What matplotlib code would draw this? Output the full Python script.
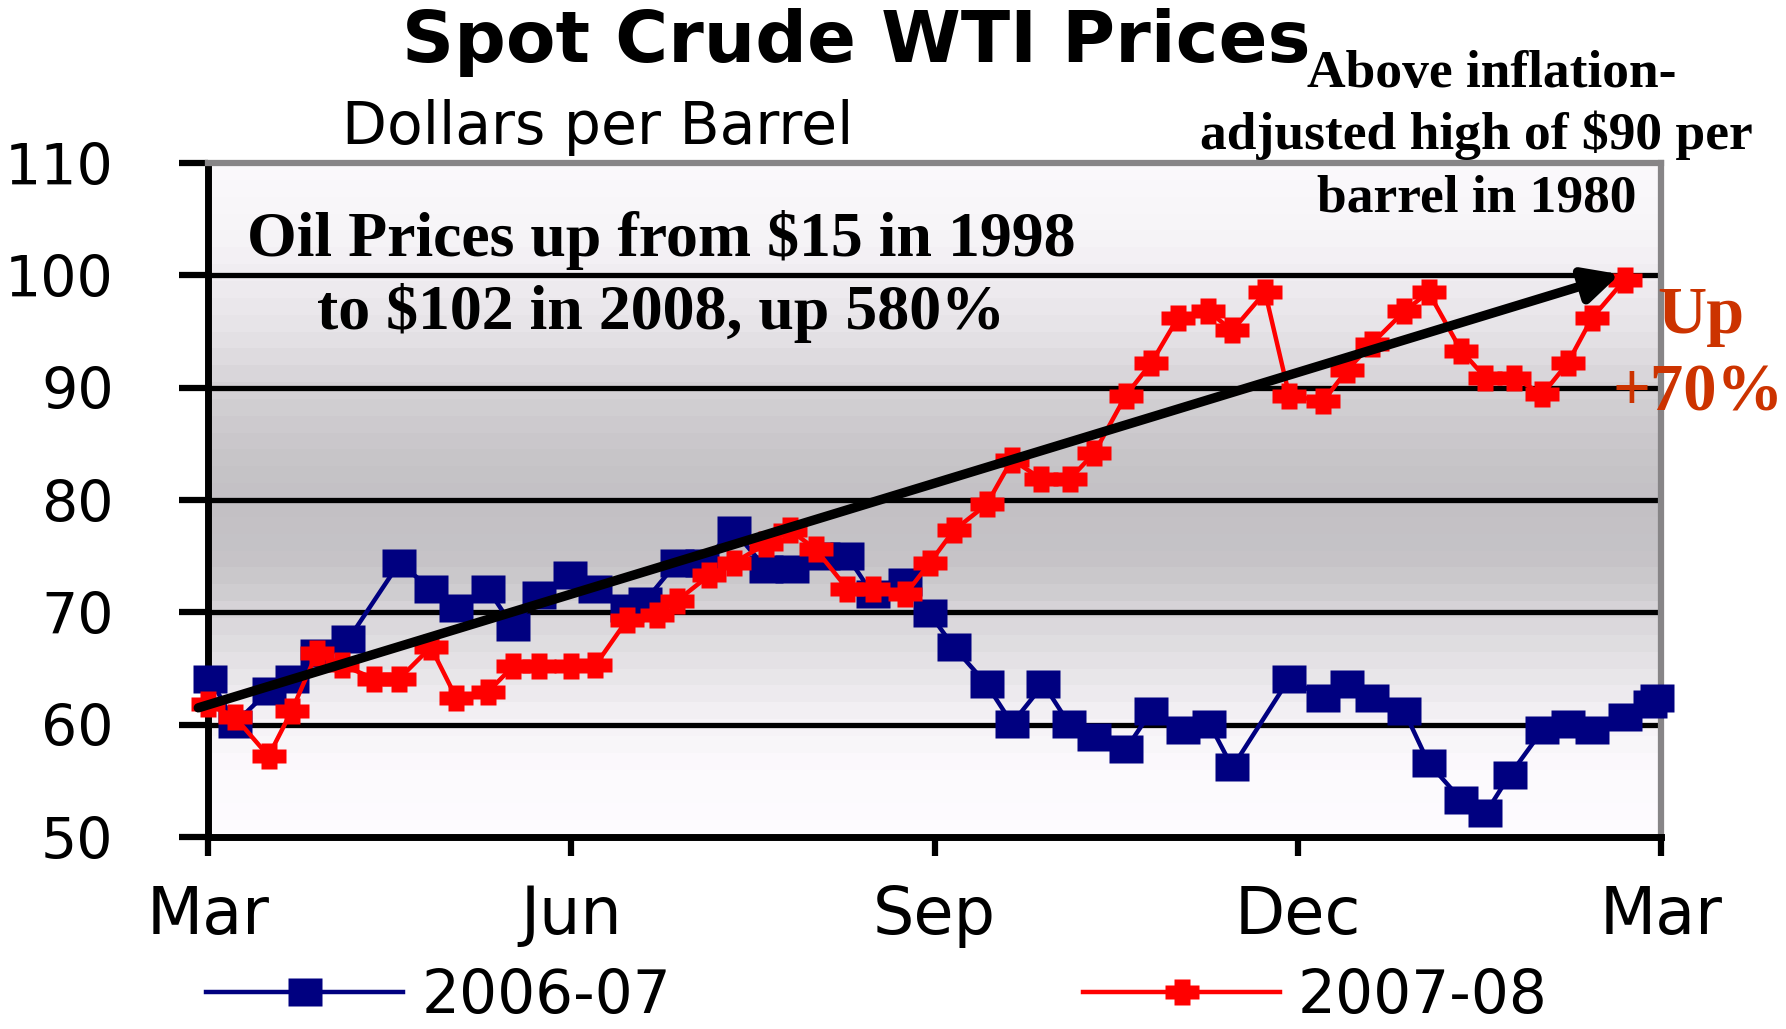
import numpy as np
import matplotlib
matplotlib.use('Agg')
import matplotlib.pyplot as plt

# weekly spot prices, x = months after 1 March
months_0607 = [0.02, 0.22, 0.50, 0.69, 0.90, 1.16, 1.58, 1.84, 2.05, 2.31, 2.52, 2.73, 2.99,
               3.20, 3.46, 3.61, 3.87, 4.08, 4.34, 4.61, 4.82, 5.08, 5.28, 5.49, 5.76, 5.96,
               6.16, 6.43, 6.64, 6.90, 7.11, 7.32, 7.58, 7.79, 8.05, 8.27, 8.46, 8.93, 9.21,
               9.41, 9.61, 9.88, 10.08, 10.35, 10.55, 10.75, 11.02, 11.23, 11.43, 11.70, 11.91, 11.97]
price_0607 = [64.1, 60.1, 63.0, 64.1, 66.4, 67.6, 74.4, 72.1, 70.4, 72.1, 68.7, 71.5, 73.3,
              72.1, 70.4, 71.0, 74.4, 74.4, 77.3, 73.9, 73.9, 75.0, 75.0, 71.6, 72.7, 69.9,
              66.9, 63.6, 60.1, 63.6, 60.1, 58.9, 57.8, 61.2, 59.5, 60.1, 56.2, 64.1, 62.4,
              63.6, 62.4, 61.2, 56.6, 53.3, 52.1, 55.5, 59.5, 60.1, 59.5, 60.7, 61.8, 62.4]

months_0708 = [0.00, 0.22, 0.50, 0.69, 0.90, 1.11, 1.37, 1.58, 1.84, 2.05, 2.31, 2.52, 2.73,
               3.00, 3.20, 3.46, 3.71, 3.87, 4.14, 4.34, 4.61, 4.81, 5.02, 5.28, 5.49, 5.76,
               5.96, 6.16, 6.43, 6.64, 6.88, 7.12, 7.32, 7.58, 7.79, 8.01, 8.26, 8.46, 8.73,
               8.93, 9.21, 9.41, 9.61, 9.88, 10.08, 10.35, 10.55, 10.79, 11.02, 11.23, 11.43, 11.70]
price_0708 = [61.8, 60.7, 57.2, 61.2, 66.4, 65.3, 64.1, 64.1, 66.9, 62.4, 62.9, 65.2, 65.2,
              65.2, 65.3, 69.3, 69.8, 71.0, 73.3, 74.4, 76.1, 77.3, 75.6, 72.1, 72.1, 71.6,
              74.4, 77.3, 79.6, 83.6, 81.9, 81.9, 84.2, 89.3, 92.2, 96.2, 96.8, 95.1, 98.5,
              89.3, 88.8, 91.6, 93.9, 96.8, 98.5, 93.3, 90.9, 90.9, 89.4, 92.2, 96.2, 99.6]

tick_months = [0, 3, 6, 9, 12]
tick_labels = ['Mar', 'Jun', 'Sep', 'Dec', 'Mar']
y_ticks = [50, 60, 70, 80, 90, 100, 110]

# trend arrow (months, $)
trend_start = (-0.08, 61.5)
trend_end = (11.66, 100.1)

W, H = 1786, 1029
fig = plt.figure(figsize=(W / 100, H / 100), dpi=100)
ax = fig.add_axes([208 / W, 1 - 837 / H, (1661 - 208) / W, (837 - 163) / H])

# banded grey background, darkest around $78
stops_v = [50, 56, 60, 62, 64, 67, 70, 72, 75, 80, 85, 90, 95, 100, 104, 110]
stops_l = [0.995, 0.99, 0.965, 0.94, 0.915, 0.88, 0.845, 0.81, 0.775, 0.765, 0.79, 0.835,
           0.90, 0.94, 0.97, 0.985]
edges = np.arange(50, 110.01, 1.5)
mid = (edges[:-1] + edges[1:]) / 2
L = np.interp(mid, stops_v, stops_l)
grad = np.clip(np.stack([L, L - 0.01, L + 0.004], axis=-1)[:, None, :], 0, 1)
ax.imshow(grad, extent=[0, 12, 50, 110], origin='lower', aspect='auto',
          interpolation='nearest', zorder=0)

square = [(-1, -0.8), (1, -0.8), (1, 0.8), (-1, 0.8), (-1, -0.8)]
cross = [(-1, -0.4), (-0.5, -0.4), (-0.5, -0.8), (0.5, -0.8), (0.5, -0.4), (1, -0.4),
         (1, 0.4), (0.5, 0.4), (0.5, 0.8), (-0.5, 0.8), (-0.5, 0.4), (-1, 0.4), (-1, -0.4)]

ax.plot(months_0607, price_0607, color='#000080', lw=3.2, marker=square, ms=25,
        mec='none', label='2006-07', zorder=3, clip_on=False)
ax.plot(months_0708, price_0708, color='#ff0000', lw=3.2, marker=cross, ms=24,
        mec='none', label='2007-08', zorder=4, clip_on=False)

ax.annotate('', xy=trend_end, xytext=trend_start, xycoords='data', textcoords='data',
            arrowprops=dict(arrowstyle='-|>,head_length=0.5,head_width=0.25', color='black',
                            lw=6.8, shrinkA=0, shrinkB=0, mutation_scale=42),
            annotation_clip=False, zorder=6)

ax.set_xlim(0, 12)
ax.set_ylim(50, 110)
ax.set_xticks(tick_months, tick_labels)
ax.set_yticks(y_ticks)
ax.tick_params(axis='x', length=14, width=4.5, pad=20, labelsize=47, direction='out')
ax.tick_params(axis='y', length=21, width=4.5, pad=47, labelsize=41, direction='out')

ax.set_axisbelow(True)
ax.yaxis.grid(True, color='black', lw=3.8)
gl = ax.get_ygridlines()
gl[0].set_visible(False)
gl[-1].set_visible(False)

for s in ['left', 'bottom']:
    ax.spines[s].set_linewidth(5)
    ax.spines[s].set_color('black')
for s in ['top', 'right']:
    ax.spines[s].set_linewidth(4.5)
    ax.spines[s].set_color('#878587')

fig.text(856 / W, 1 - 62 / H, 'Spot Crude WTI Prices', ha='center', va='baseline',
         fontsize=52, fontweight='bold')
fig.text(598 / W, 1 - 144 / H, 'Dollars per Barrel', ha='center', va='baseline', fontsize=42)

serif = 'Liberation Serif'
fig.text(1492 / W, 1 - 87 / H, 'Above inflation-', ha='center', va='baseline',
         fontsize=38.5, fontweight='bold', family=serif)
fig.text(1476 / W, 1 - 149 / H, 'adjusted high of $90 per', ha='center', va='baseline',
         fontsize=38.5, fontweight='bold', family=serif)
fig.text(1477 / W, 1 - 211 / H, 'barrel in 1980', ha='center', va='baseline',
         fontsize=38.5, fontweight='bold', family=serif)

fig.text(661 / W, 1 - 256 / H, 'Oil Prices up from $15 in 1998', ha='center', va='baseline',
         fontsize=46, fontweight='bold', family=serif)
fig.text(661 / W, 1 - 329 / H, 'to $102 in 2008, up 580%', ha='center', va='baseline',
         fontsize=46, fontweight='bold', family=serif)

fig.text(1701 / W, 1 - 333 / H, 'Up', ha='center', va='baseline', color='#cc3300',
         fontsize=49, fontweight='bold', family=serif)
fig.text(1698 / W, 1 - 411 / H, '+70%', ha='center', va='baseline', color='#cc3300',
         fontsize=48, fontweight='bold', family=serif)

ax.legend(loc='center', bbox_to_anchor=(877 / W, 1 - 996 / H), bbox_transform=fig.transFigure,
          ncol=2, frameon=False, fontsize=43, handlelength=3.3, handletextpad=0.3,
          columnspacing=6.9, numpoints=1, borderpad=0, borderaxespad=0)

fig.savefig('out.png', dpi=100)
